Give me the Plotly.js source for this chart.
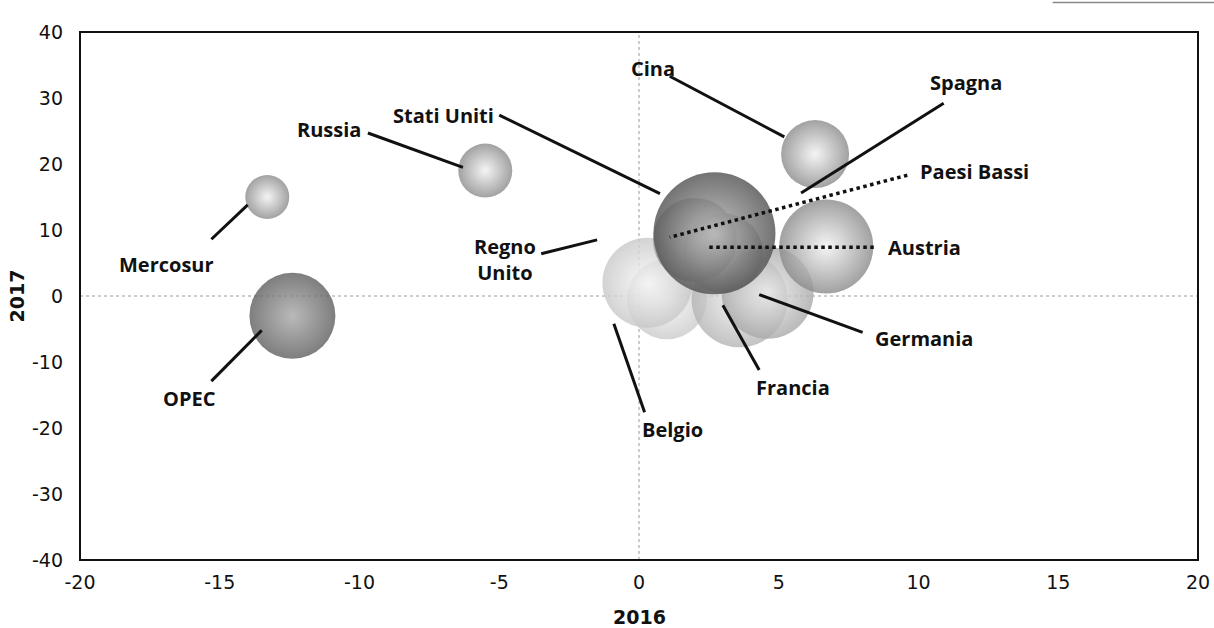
<!DOCTYPE html>
<html><head><meta charset="utf-8">
<script src="https://cdn.plot.ly/plotly-3.0.1.min.js"></script>
<style>html,body{margin:0;padding:0;background:#fff}#c{width:1214px;height:628px}</style>
</head><body><div id="c"></div>
<script>
// Data
const countries = ["Belgio","Regno Unito","Francia","Germania","Austria","Paesi Bassi","Spagna","Stati Uniti","Cina","Russia","Mercosur","OPEC"];
const x2016 = [1.0, 0.3, 3.6, 4.6, 3.0, 2.0, 6.7, 2.7, 6.3, -5.5, -13.3, -12.4];
const y2017 = [-0.5, 2.0, -0.5, 0.5, 6.5, 8.5, 7.5, 9.5, 21.5, 19.0, 15.0, -3.0];
const bubbleSize = [80, 90, 96, 92, 80, 84, 94, 122, 68, 54, 44, 86];
const xTicks = [-20,-15,-10,-5,0,5,10,15,20];
const yTicks = [-40,-30,-20,-10,0,10,20,30,40];

// Styles (marker.color = rim, gradient.color = centre)
const rimCol = {"Stati Uniti":"#505050","OPEC":"#5e5e5e","Regno Unito":"#c8c8c8","Belgio":"#cacaca","Francia":"#b4b4b4","Germania":"#a8a8a8","Paesi Bassi":"#a0a0a0","Austria":"#a0a0a0"};
const centerCol = {"Stati Uniti":"#b4b4b4","OPEC":"#a8a8a8","Regno Unito":"#f8f8f8","Belgio":"#f8f8f8","Francia":"#f0f0f0","Germania":"#ececec"};
const mColors = countries.map(c => rimCol[c] || "#8a8a8a");
const gColors = countries.map(c => centerCol[c] || "#f2f2f2");

// Label layout: text position, leader line start/end, dotted?
const labels = [
  {t:"Mercosur", tx:-16.9, ty:4.7, x0:-15.3, y0:8.6, x1:-14.0, y1:13.8, dot:false},
  {t:"Russia", tx:-11.1, ty:25.2, x0:-9.7, y0:24.7, x1:-6.3, y1:19.5, dot:false},
  {t:"OPEC", tx:-16.1, ty:-15.6, x0:-15.3, y0:-12.9, x1:-13.5, y1:-5.2, dot:false},
  {t:"Stati Uniti", tx:-7.0, ty:27.4, x0:-5.0, y0:27.4, x1:0.75, y1:15.5, dot:false},
  {t:"Cina", tx:0.5, ty:34.4, x0:1.1, y0:33.3, x1:5.2, y1:24.1, dot:false},
  {t:"Spagna", tx:11.7, ty:32.4, x0:10.9, y0:29.2, x1:5.8, y1:15.6, dot:false},
  {t:"Paesi Bassi", tx:12.0, ty:18.8, x0:9.6, y0:18.3, x1:1.1, y1:8.9, dot:true},
  {t:"Austria", tx:10.2, ty:7.4, x0:8.4, y0:7.4, x1:2.5, y1:7.4, dot:true},
  {t:"Regno<br>Unito", tx:-4.8, ty:5.6, x0:-3.5, y0:6.4, x1:-1.5, y1:8.5, dot:false},
  {t:"Belgio", tx:1.2, ty:-20.3, x0:-0.9, y0:-4.2, x1:0.2, y1:-17.6, dot:false},
  {t:"Francia", tx:5.5, ty:-13.8, x0:3.0, y0:-1.4, x1:4.3, y1:-11.2, dot:false},
  {t:"Germania", tx:10.2, ty:-6.5, x0:4.3, y0:0.2, x1:8.0, y1:-5.5, dot:false}
];

const bubbles = {
  type:"scatter", mode:"markers", x:x2016, y:y2017, text:countries, hoverinfo:"text",
  marker:{size:bubbleSize, sizemode:"diameter", sizeref:1, color:mColors, opacity:0.8,
    gradient:{type:"radial", color:gColors}, line:{width:0}}
};

const shapes = [
  {type:"line", xref:"x", yref:"y", x0:-20, x1:20, y0:0, y1:0, line:{color:"#9a9a9a", width:1, dash:"dot"}, layer:"below"},
  {type:"line", xref:"x", yref:"y", x0:0, x1:0, y0:-40, y1:40, line:{color:"#9a9a9a", width:1, dash:"dot"}, layer:"below"},
  {type:"rect", xref:"paper", yref:"paper", x0:0, x1:1, y0:0, y1:1, line:{color:"#111", width:2}},
  {type:"line", xref:"paper", yref:"paper", x0:0.87, x1:1.02, y0:1.056, y1:1.056, line:{color:"#888", width:1.5}}
];
labels.forEach(l => shapes.push({type:"line", xref:"x", yref:"y", x0:l.x0, y0:l.y0, x1:l.x1, y1:l.y1,
  line:{color:"#111", width:l.dot?3.5:3, dash:l.dot?"dot":"solid"}}));

const lblFont = {family:"Open Sans, Noto Sans, sans-serif", size:20, color:"#111", weight:700};
const annotations = labels.map(l => ({x:l.tx, y:l.ty, xref:"x", yref:"y", text:l.t, showarrow:false,
  align:"center", font:lblFont}));
const axFont = {family:"DejaVu Sans, Liberation Sans, sans-serif", size:19, color:"#111"};
annotations.push({xref:"paper", yref:"paper", x:0.5, y:-0.108, yanchor:"middle", text:"<b>2016</b>", showarrow:false, font:axFont});
annotations.push({xref:"paper", yref:"paper", x:-0.056, y:0.5, xanchor:"center", text:"<b>2017</b>", textangle:-90, showarrow:false, font:axFont});

const layout = {
  width:1214, height:628, margin:{l:80, r:16, t:32, b:68},
  paper_bgcolor:"#fff", plot_bgcolor:"#fff", showlegend:false,
  xaxis:{range:[-20,20], tickvals:xTicks, ticktext:xTicks.map(String), showgrid:false, zeroline:false,
    showline:false, ticks:"", ticklabelstandoff:9, tickfont:axFont},
  yaxis:{range:[-40,40], tickvals:yTicks, ticktext:yTicks.map(String), showgrid:false, zeroline:false,
    showline:false, ticks:"", ticklabelstandoff:16, tickfont:axFont},
  shapes:shapes, annotations:annotations
};
Plotly.newPlot("c", [bubbles], layout, {displayModeBar:false, staticPlot:true});
</script>
</body></html>
